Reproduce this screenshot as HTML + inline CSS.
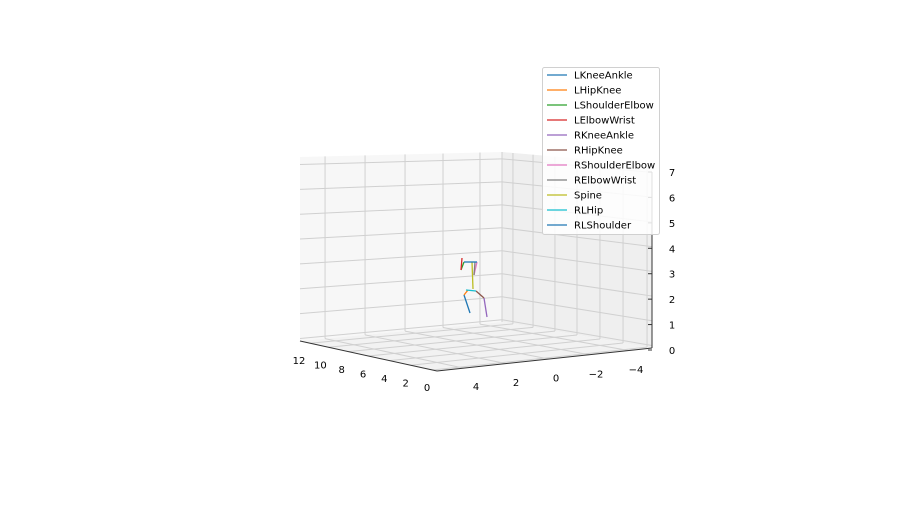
<!DOCTYPE html>
<html><head><meta charset="utf-8"><style>
body{margin:0;background:#fff;}
svg{display:block;font-family:"DejaVu Sans","Liberation Sans",sans-serif;}
</style></head><body>
<svg id="chart" width="914" height="518" viewBox="0 0 914 518">
<g id="panes"></g>
<g id="grid"></g>
<g id="axes"></g>
<g id="ticks" font-size="10" fill="#000"></g>
<g id="skel"></g>
<g id="legend"></g>
</svg>
<script>
// data
const xTicks = [12,10,8,6,4,2,0];
const yTicks = [4,2,0,-2,-4];
const zTicks = [0,1,2,3,4,5,6,7];
const segNames = ["LKneeAnkle","LHipKnee","LShoulderElbow","LElbowWrist","RKneeAnkle","RHipKnee","RShoulderElbow","RElbowWrist","Spine","RLHip","RLShoulder"];
const segColors = ["#1f77b4","#ff7f0e","#2ca02c","#d62728","#9467bd","#8c564b","#e377c2","#7f7f7f","#bcbd22","#17becf","#1f77b4"];
// segment endpoints in projected data units (u: horizontal, v: vertical)
const segStartU = [464,468,464,461,484,476,477,474,472,466,464];
const segStartV = [295,290,262,270,298,291,262,275,262,290,262];
const segEndU   = [470,464,461,462,487,484,474,475,473,476,477];
const segEndV   = [313,295,270,258,317,298,275,262,289,291,262];

const NS="http://www.w3.org/2000/svg";
function mk(tag,attrs,parent){const e=document.createElementNS(NS,tag);for(const k in attrs)e.setAttribute(k,attrs[k]);parent.appendChild(e);return e;}
function lerp(a,b,t){return [a[0]+(b[0]-a[0])*t,a[1]+(b[1]-a[1])*t];}
function bil(c,u,v){const b=lerp(c[0],c[1],u), t=lerp(c[3],c[2],u); return lerp(b,t,v);}
const L=[[300,341],[502,322],[502,152],[300,157]];
const R=[[502,322],[652,348],[652,165],[502,152]];
const F={back:[502,322],left:[300,341],front:[437,371],right:[652,348]};
const panes=document.getElementById('panes');
let p=mk('polygon',{points:L.map(a=>a.join(',')).join(' '),fill:'#f7f7f7'},panes);

p=mk('polygon',{points:R.map(a=>a.join(',')).join(' '),fill:'#efefef'},panes);

p=mk('polygon',{points:[F.back,F.right,F.front,F.left].map(a=>a.join(',')).join(' '),fill:'#f2f2f2'},panes);


const grid=document.getElementById('grid');
const gs={stroke:'#d0d0d0','stroke-width':1,fill:'none'};
function gl(a,b,name){const e=mk('line',Object.assign({x1:a[0],y1:a[1],x2:b[0],y2:b[1]},gs),grid);}
const zf=z=>(z+0.1)/7.4;
zTicks.forEach(z=>{gl(bil(L,0,zf(z)),bil(L,1,zf(z)),'grid-z');gl(bil(R,0,zf(z)),bil(R,1,zf(z)),'grid-z');});
const lu=[0.124,0.322,0.52,0.708,0.891];
const ru=[0.073,0.207,0.353,0.5,0.653,0.807,0.967];
lu.forEach(u=>{gl(bil(L,u,0),bil(L,u,1),'grid-x');
  gl(lerp(F.left,F.back,u),lerp(F.front,F.right,u),'grid-floor');});
ru.forEach(u=>{gl(bil(R,u,0),bil(R,u,1),'grid-y');
  gl(lerp(F.back,F.right,u),lerp(F.left,F.front,u),'grid-floor');});
gl(L[2],L[1],'pane-edge');

const axes=document.getElementById('axes');
function al(a,b,name){const e=mk('line',{x1:a[0],y1:a[1],x2:b[0],y2:b[1],stroke:'#333','stroke-width':1},axes);}
al(F.left,F.front,'x-axis-line');al(F.front,F.right,'y-axis-line');al([652,348],[652,172],'z-axis-line');

const ticks=document.getElementById('ticks');
function tx(x,y,s,name){const e=mk('text',{x:x,y:y,'text-anchor':'middle'},ticks);e.textContent=s;}
xTicks.forEach((v,i)=>{const t=(12-v)/12;const pt=lerp([299,364],[427,391],t);tx(pt[0],pt[1],String(v),'x-tick-label');});
yTicks.forEach(v=>{const t=(4-v)/8;const pt=lerp([476,390],[636,373],t);tx(pt[0],pt[1],String(v).replace('-','\u2212'),'y-tick-label');});
zTicks.forEach(v=>{const y=350-(v/7)*178;tx(672,y+4,String(v),'z-tick-label');
  const e=mk('line',{x1:648,y1:y,x2:652,y2:y,stroke:'#333'},axes);});

const skel=document.getElementById('skel');
segNames.forEach((n,i)=>{const e=mk('line',{x1:segStartU[i],y1:segStartV[i],x2:segEndU[i],y2:segEndV[i],stroke:segColors[i],'stroke-width':1.3},skel);
  });

const lg=document.getElementById('legend');
const box=mk('rect',{x:542.5,y:67.5,width:117,height:167,rx:2,fill:'#fff','fill-opacity':0.85,stroke:'#d0d0d0'},lg);

segNames.forEach((n,i)=>{const y=75+i*15;const g=mk('g',{},lg);
  
  mk('line',{x1:547,y1:y,x2:567,y2:y,stroke:segColors[i],'stroke-width':1.3},g);
  const t=mk('text',{x:574,y:y+3.5,'font-size':10,fill:'#000'},g);t.textContent=n;});
</script>
</body></html>
